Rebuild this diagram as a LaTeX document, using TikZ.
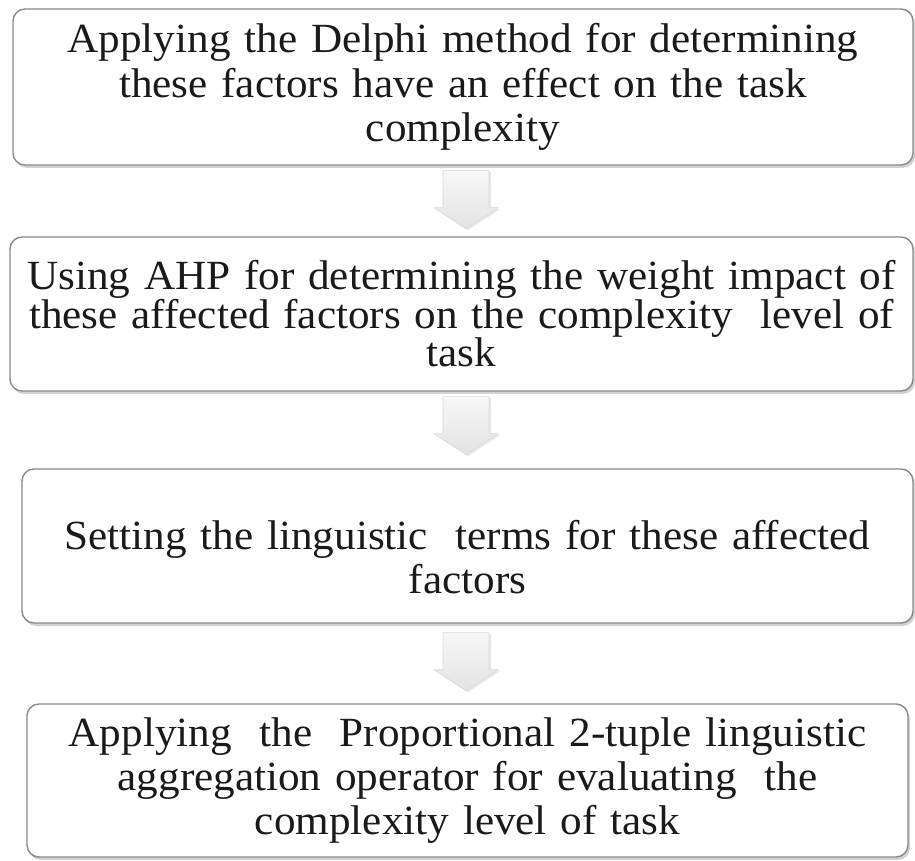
\documentclass[tikz,border=0pt]{standalone}
\usepackage{fontspec}
\setmainfont[FakeStretch=1.04]{Liberation Serif}
\usetikzlibrary{shadows,calc}

\definecolor{boxline}{HTML}{8A8A8A}
\definecolor{inktext}{HTML}{1A1A1A}

\tikzset{
  x=1pt, y=1pt,
  stepbox/.style={
    draw=boxline, line width=1.4pt, rounded corners=12pt, fill=white,
    drop shadow={shadow xshift=2pt, shadow yshift=-3pt, opacity=0.35},
    align=center, inner sep=0pt, text=inktext,
    font=\fontsize{41.5}{44}\selectfont
  },
  arrowbody/.style={
    draw=gray!30, line width=0.6pt, line join=miter,
    top color=gray!6, bottom color=gray!22,
    drop shadow={shadow xshift=2pt, shadow yshift=-1.5pt, opacity=0.18}
  },
  % broad downward block arrow: shaft 46 wide, head 64 wide, 58 long
  pics/blockarrow/.style={
    code={
      \path[arrowbody] (-23,29) -- (23,29) -- (23,-8) -- (32,-8) -- (0,-29)
        -- (-32,-8) -- (-23,-8) -- cycle;
    }
  }
}

\begin{document}
\begin{tikzpicture}
\useasboundingbox[fill=white] (0,0) rectangle (915,860);

\node[stepbox, minimum width=900pt, minimum height=156pt, text width=890pt,
      font=\fontsize{41.5}{44.5}\selectfont] (b1) at (463,773)
  {Applying the Delphi method for determining\\
   these factors have an effect on the task\\
   complexity};

\node[stepbox, minimum width=903pt, minimum height=154pt, text width=895pt,
      font=\fontsize{41.5}{38.5}\selectfont] (b2) at (461.5,546)
  {Using AHP for determining the weight impact of\\
   these affected factors on the complexity\ \ level of\\
   task};

\node[stepbox, minimum width=891pt, minimum height=154pt, text width=880pt] (b3) at (467.5,314)
  {\rule{0pt}{52pt}Setting the linguistic\ \ terms for these affected\\
   factors};

\node[stepbox, minimum width=881pt, minimum height=153pt, text width=870pt] (b4) at (467.5,79.5)
  {Applying\ \ the\ \ Proportional 2-tuple linguistic\\
   aggregation operator for evaluating\ \ the\\
   complexity level of task};

\pic (a1) at ($(b1.south)+(3,-34)$) {blockarrow};
\pic (a2) at ($(b2.south)+(4.5,-34)$) {blockarrow};
\pic (a3) at ($(b3.south)+(-1.5,-38)$) {blockarrow};
\end{tikzpicture}
\end{document}
